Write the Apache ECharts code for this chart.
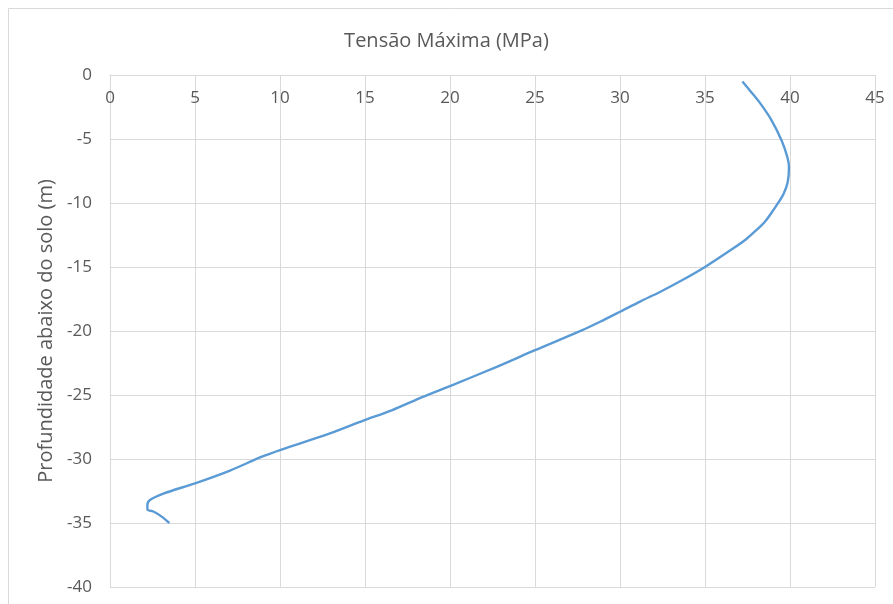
<!DOCTYPE html>
<html>
<head>
<meta charset="utf-8">
<style>
  html, body { margin: 0; padding: 0; background: #ffffff; }
  #chart { width: 893px; height: 604px; }
</style>
<script src="https://cdn.jsdelivr.net/npm/echarts@6/dist/echarts.min.js"></script>
</head>
<body>
<div id="chart"></div>
<script>
// Maximum stress (MPa) versus depth below ground (m)
const tensao = [
  37.2, 37.7, 38.24, 38.9, 39.5, 39.84, 39.94, 39.86, 39.62, 39.35,
  39.0, 38.5, 37.95, 37.4, 36.6, 35.0, 33.7, 32.35, 31.18, 30.0, 28.8,
  27.75, 25.0, 22.75, 20.0, 18.4, 16.57, 14.9, 12.94, 10.0, 8.9,
  7.06, 5.0, 3.14, 2.35, 2.2, 2.2, 2.55, 3.04, 3.49
];
const profundidade = [
  -0.5, -1.3, -2.2, -3.5, -5.1, -6.4, -7.2, -8.4, -9.3, -9.9,
  -10.6, -11.5, -12.2, -12.85, -13.6, -15.0, -16.0, -16.95, -17.7, -18.5, -19.3,
  -19.95, -21.5, -22.8, -24.3, -25.15, -26.2, -27.0, -28.0, -29.3, -29.84,
  -30.9, -31.9, -32.7, -33.2, -33.6, -33.95, -34.1, -34.5, -35.0
];

const titulo = 'Tensão Máxima (MPa)';
const nomeEixoY = 'Profundidade abaixo do solo (m)';

const pontos = tensao.map((v, i) => [v, profundidade[i]]);

const FONT = '"Open Sans", sans-serif';
const TEXT = '#595959';
const GRID = '#D9D9D9';

const chart = echarts.init(document.getElementById('chart'), null, { renderer: 'canvas' });
chart.setOption({
  backgroundColor: '#ffffff',
  animation: false,
  title: {
    text: titulo,
    left: 'center',
    top: 26,
    textStyle: { fontFamily: FONT, fontSize: 20, fontWeight: 'normal', color: TEXT }
  },
  graphic: [{
    type: 'rect',
    shape: { x: 8.5, y: 8.5, width: 1000, height: 1000 },
    style: { fill: 'none', stroke: GRID, lineWidth: 1 },
    silent: true
  }],
  grid: { left: 110, right: 18, top: 75, bottom: 17 },
  xAxis: {
    type: 'value',
    position: 'top',
    min: 0, max: 45, interval: 5,
    axisLine: { show: true, lineStyle: { color: GRID } },
    axisTick: { show: false },
    axisLabel: { inside: true, margin: 15, color: TEXT, fontFamily: FONT, fontSize: 17 },
    splitLine: { show: true, lineStyle: { color: GRID, width: 1 } }
  },
  yAxis: {
    type: 'value',
    min: -40, max: 0, interval: 5,
    name: nomeEixoY,
    nameLocation: 'middle',
    nameGap: 51,
    nameTextStyle: { fontFamily: FONT, fontSize: 20, color: TEXT },
    axisLine: { show: true, lineStyle: { color: GRID } },
    axisTick: { show: false },
    axisLabel: { margin: 18, color: TEXT, fontFamily: FONT, fontSize: 17 },
    splitLine: { show: true, lineStyle: { color: GRID, width: 1 } }
  },
  series: [{
    type: 'line',
    data: pontos,
    showSymbol: false,
    smooth: 0.3,
    lineStyle: { color: '#5B9BD5', width: 2.4 },
    itemStyle: { color: '#5B9BD5' }
  }]
});
</script>
</body>
</html>
